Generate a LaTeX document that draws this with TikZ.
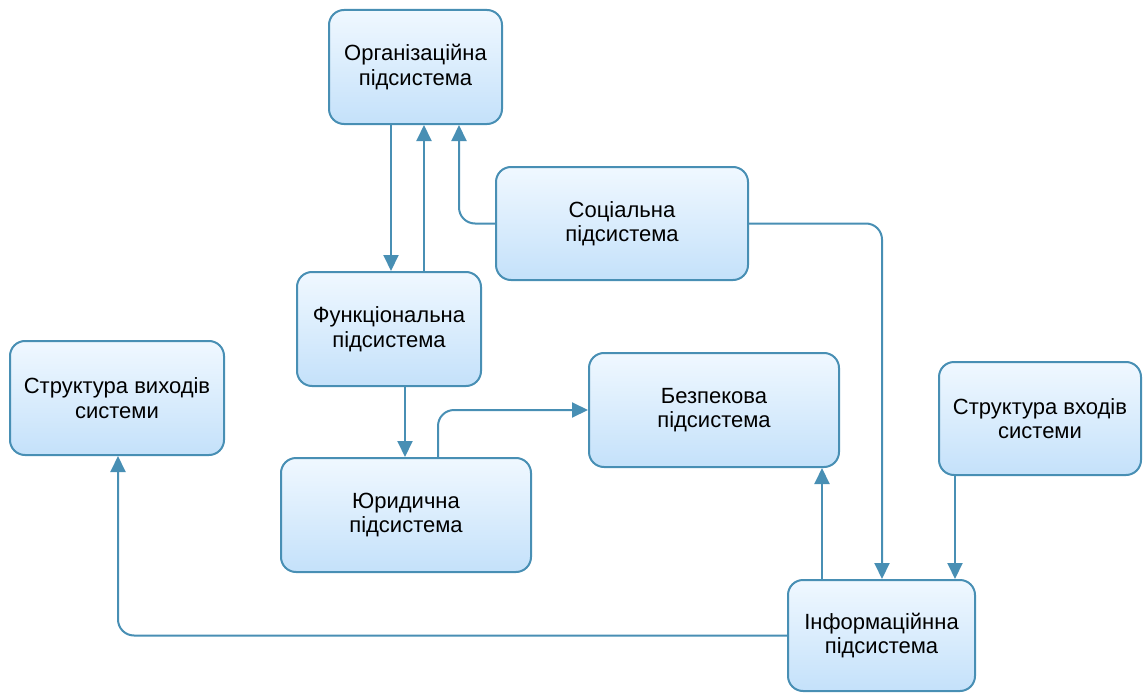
\documentclass[tikz,border=0pt]{standalone}
\usepackage{fontspec}
\setmainfont{Liberation Sans}
\usetikzlibrary{arrows.meta}
\definecolor{edge}{RGB}{72,143,180}
\definecolor{boxtop}{RGB}{240,248,255}
\definecolor{boxbot}{RGB}{196,225,250}
\tikzset{
  sbox/.style={draw=edge, line width=2pt, rounded corners=15pt, top color=boxtop, bottom color=boxbot,
    align=center, inner sep=0pt, font=\fontsize{22}{24.5}\selectfont},
  conn/.style={draw=edge, line width=2pt, rounded corners=16pt, -{Triangle[length=16pt,width=15pt]}}
}
\begin{document}
\begin{tikzpicture}[x=1pt,y=-1pt]
\useasboundingbox (0,0) rectangle (1144,693);
\node[sbox, minimum width=173pt, minimum height=114pt] (org) at (415.5,67) {Організаційна\\підсистема};
\node[sbox, minimum width=252pt, minimum height=113pt] (soc) at (622,223.5) {Соціальна\\підсистема};
\node[sbox, minimum width=184pt, minimum height=114pt] (func) at (389,329) {Функціональна\\підсистема};
\node[sbox, minimum width=250pt, minimum height=114pt] (bez) at (714,410) {Безпекова\\підсистема};
\node[sbox, minimum width=202pt, minimum height=113pt] (vhid) at (1040,418.5) {Структура входів\\системи};
\node[sbox, minimum width=214pt, minimum height=114pt] (vyh) at (117,398) {Структура виходів\\системи};
\node[sbox, minimum width=250pt, minimum height=114pt] (yur) at (406,515) {Юридична\\підсистема};
\node[sbox, minimum width=187pt, minimum height=111pt] (info) at (881.5,635.5) {Інформаційнна\\підсистема};

\coordinate (of) at ([xshift=-24.5]org.south);
\draw[conn] (of) -- (of |- func.north);
\coordinate (fo) at ([xshift=35]func.north);
\draw[conn] (fo) -- (fo |- org.south);
\draw[conn] (soc.west) -| ([xshift=43.5]org.south);
\draw[conn] (soc.east) -| ([xshift=0.5]info.north);
\coordinate (fy) at ([xshift=16]func.south);
\draw[conn] (fy) -- (fy |- yur.north);
\draw[conn] ([xshift=32]yur.north) |- (bez.west);
\coordinate (ib) at ([xshift=-59.5]info.north);
\draw[conn] (ib) -- (ib |- bez.south);
\coordinate (vi) at ([xshift=-85]vhid.south);
\draw[conn] (vi) -- (vi |- info.north);
\draw[conn] (info.west) -| ([xshift=1]vyh.south);
\end{tikzpicture}
\end{document}
